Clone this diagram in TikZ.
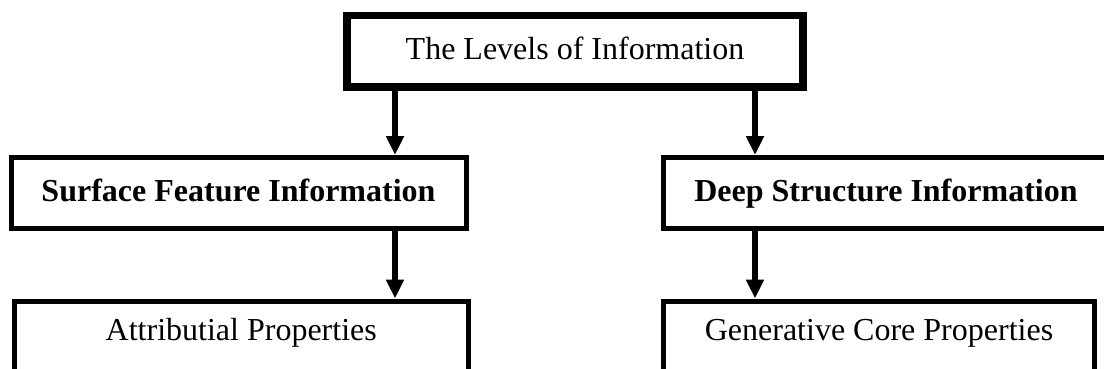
\documentclass[tikz,border=0pt]{standalone}
\usepackage{fontspec}
\setmainfont{Liberation Serif}
\usetikzlibrary{arrows.meta}
\begin{document}
\begin{tikzpicture}[x=1pt,y=-1pt,
  box/.style={draw, line width=5pt, inner sep=0pt, align=center,
    font=\fontsize{32}{38}\selectfont},
  headbox/.style={box, line width=7.5pt},
  closedtext/.style={text height=22pt, text depth=6pt},
  opentext/.style={text height=22pt, text depth=66pt},
  arr/.style={line width=5.5pt, -{Triangle[width=17pt,length=19pt]}}]
\useasboundingbox (0,0) rectangle (1104,369);
\begin{scope}
\clip (0,0) rectangle (1104,369);

% title box
\node[headbox, closedtext, minimum width=456pt, minimum height=71.5pt]
  (levels) at (575,51.25) {The Levels of Information};

% second level
\node[box, closedtext, minimum width=455pt, minimum height=71pt]
  (surface) at (238.5,193) {\textbf{Surface Feature Information}};
\node[box, closedtext, minimum width=445pt, minimum height=71pt]
  (deep) at (886,193) {\textbf{Deep Structure Information}};

% third level (boxes run on past the lower edge)
\node[box, opentext, minimum width=454.5pt, minimum height=122pt]
  (attr) at (241.25,362) {Attributial Properties};
\node[box, opentext, minimum width=431pt, minimum height=122pt]
  (core) at (879,362) {Generative Core Properties};

% vertical lanes of the arrows
\coordinate (laneL) at (395,0);
\coordinate (laneR) at (755,0);

\draw[arr] (laneL |- levels.south) -- (laneL |- surface.north);
\draw[arr] (laneR |- levels.south) -- (laneR |- deep.north);
\draw[arr] (laneL |- surface.south) -- (laneL |- attr.north);
\draw[arr] (laneR |- deep.south) -- (laneR |- core.north);
\end{scope}
\end{tikzpicture}
\end{document}
